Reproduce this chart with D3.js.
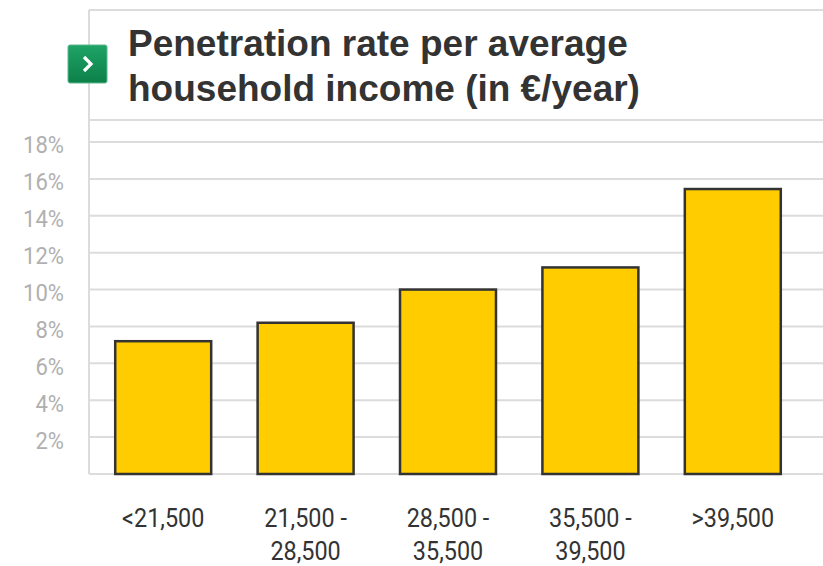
<!DOCTYPE html>
<html>
<head>
<meta charset="utf-8">
<script src="https://cdn.jsdelivr.net/npm/d3@7"></script>
<style>
  body { margin: 0; background: #fff; }
  svg { display: block; }
</style>
</head>
<body>
<svg id="chart" width="823" height="566"></svg>
<script>
// data
const categories = ["<21,500", "21,500 -|28,500", "28,500 -|35,500", "35,500 -|39,500", ">39,500"];
const rates = [7.2, 8.2, 10.0, 11.2, 15.45];
const yTicks = [2, 4, 6, 8, 10, 12, 14, 16, 18];
const titleLines = ["Penetration rate per average", "household income (in €/year)"];

const W = 823, H = 566;
const left = 89, baseY = 474;

const svg = d3.select("#chart");

const x = d3.scaleBand().domain(categories).range([92, 804]).paddingInner(0.326).paddingOuter(0.163);
const y = d3.scaleLinear().domain([0, 18]).range([baseY, 142]);

// frame lines
const frame = svg.append("g").attr("stroke", "#dcdcdc").attr("stroke-width", 2);
frame.append("line").attr("x1", left).attr("x2", W).attr("y1", 10).attr("y2", 10);
frame.append("line").attr("x1", left).attr("x2", W).attr("y1", 120).attr("y2", 120);
frame.append("line").attr("x1", left).attr("x2", left).attr("y1", 10).attr("y2", baseY);

// gridlines
svg.append("g").selectAll("line").data(yTicks).join("line")
  .attr("x1", left).attr("x2", W)
  .attr("y1", d => y(d)).attr("y2", d => y(d))
  .attr("stroke", "#dcdcdc").attr("stroke-width", 2);

// baseline
svg.append("line").attr("x1", left).attr("x2", W).attr("y1", baseY).attr("y2", baseY)
  .attr("stroke", "#dcdcdc").attr("stroke-width", 2);

// y labels
svg.append("g").selectAll("text").data(yTicks).join("text")
  .attr("x", 64).attr("y", d => y(d) + 3)
  .attr("dy", "0.35em")
  .attr("text-anchor", "end")
  .attr("font-family", "Roboto, sans-serif")
  .attr("font-size", 24)
  .attr("fill", "#b0b0b0")
  .attr("transform", "translate(64,0) scale(0.92,1) translate(-64,0)")
  .text(d => d + "%");

// bars
svg.append("g").selectAll("rect").data(rates).join("rect")
  .attr("x", (d, i) => x(categories[i]))
  .attr("y", d => y(d))
  .attr("width", x.bandwidth())
  .attr("height", d => baseY - y(d))
  .attr("fill", "#ffcc00")
  .attr("stroke", "#333")
  .attr("stroke-width", 2.5);

// x labels
const xl = svg.append("g").selectAll("g").data(categories).join("g")
  .attr("transform", d => `translate(${x(d) + x.bandwidth() / 2},527) scale(0.9,1)`);
xl.each(function(d) {
  const t = d3.select(this).append("text")
    .attr("text-anchor", "middle")
    .attr("font-family", "Roboto, sans-serif")
    .attr("font-size", 26)
    .attr("fill", "#333");
  d.split("|").forEach((s, i) => {
    t.append("tspan").attr("x", 0).attr("y", i * 33).text(s);
  });
});

// green icon
const defs = svg.append("defs");
const grad = defs.append("linearGradient").attr("id", "g1").attr("x1", 0).attr("y1", 0).attr("x2", 0).attr("y2", 1);
grad.append("stop").attr("offset", 0).attr("stop-color", "#1fa366");
grad.append("stop").attr("offset", 1).attr("stop-color", "#0c8049");
svg.append("rect").attr("x", 68).attr("y", 45).attr("width", 39).attr("height", 38)
  .attr("rx", 2).attr("fill", "url(#g1)").attr("stroke", "#5cb88a").attr("stroke-width", 1);
svg.append("path").attr("d", "M84,57 L91,64 L84,71")
  .attr("fill", "none").attr("stroke", "#fff").attr("stroke-width", 3.2)
  .attr("stroke-linecap", "butt").attr("stroke-linejoin", "miter");

// title
svg.append("g").selectAll("text").data(titleLines).join("text")
  .attr("x", 128).attr("y", (d, i) => 56 + i * 45)
  .attr("font-family", "'Liberation Sans', Arial, sans-serif")
  .attr("font-weight", "bold")
  .attr("font-size", 37)
  .attr("fill", "#333")
  .text(d => d);
</script>
</body>
</html>
